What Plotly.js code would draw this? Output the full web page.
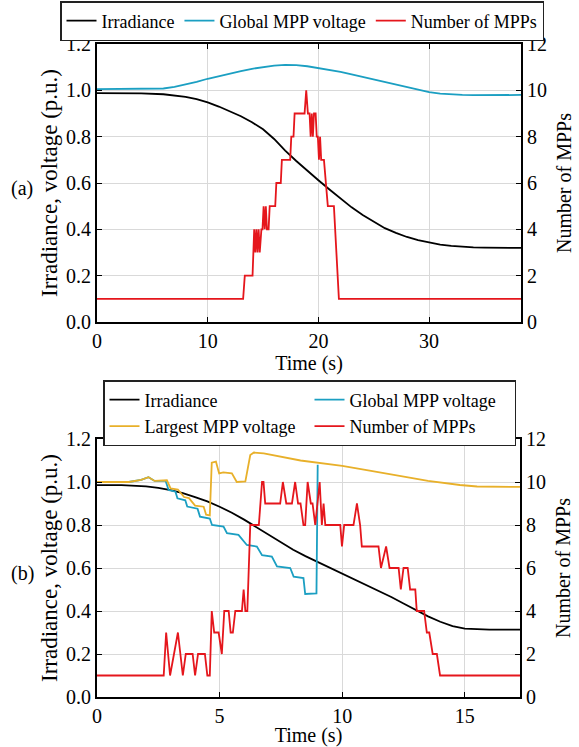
<!DOCTYPE html>
<html>
<head>
<meta charset="utf-8">
<script src="https://cdn.plot.ly/plotly-3.0.1.min.js"></script>
<style>
html,body{margin:0;padding:0;background:#fff;}
#chart{width:579px;height:747px;}
</style>
</head>
<body>
<div id="chart"></div>
<script>
// ---------- (a) ----------
const tIrrA = [0, 2, 4, 6, 8, 9, 10, 11, 12, 13, 14, 15, 16, 17, 18, 19, 20, 21, 22, 23, 24, 25, 26, 27, 28, 29, 30, 31, 32, 33, 34, 35, 38.3];
const irrA  = [0.988, 0.988, 0.987, 0.983, 0.972, 0.962, 0.948, 0.93, 0.91, 0.888, 0.862, 0.832, 0.79, 0.74, 0.695, 0.652, 0.612, 0.572, 0.532, 0.495, 0.462, 0.432, 0.405, 0.385, 0.367, 0.353, 0.342, 0.334, 0.329, 0.325, 0.322, 0.321, 0.32];

const tGlobA = [0, 5, 6, 7, 8, 9, 10, 11, 12, 13, 14, 15, 16, 17, 18, 19, 20, 21, 22, 23, 24, 25, 26, 27, 28, 29, 30, 31, 32, 33, 34, 38.3];
const globA  = [1.005, 1.005, 1.008, 1.015, 1.025, 1.037, 1.05, 1.062, 1.073, 1.083, 1.093, 1.101, 1.107, 1.11, 1.109, 1.104, 1.097, 1.089, 1.08, 1.069, 1.058, 1.046, 1.034, 1.022, 1.011, 1.0, 0.992, 0.986, 0.982, 0.98, 0.979, 0.98];

const tNumA = [0, 13.2, 13.35, 14.05, 14.2, 14.3, 14.4, 14.5, 14.6, 14.7, 14.85, 14.95, 15.05, 15.15, 15.25, 15.35, 15.5, 15.6, 16.1, 16.2, 16.6, 16.7, 17.45, 17.55, 17.75, 17.85, 18.75, 18.9, 19.05, 19.2, 19.3, 19.4, 19.5, 19.6, 19.75, 19.85, 19.95, 20.05, 20.15, 20.25, 20.5, 20.85, 21.4, 21.85, 38.3];
const numA  = [1, 1, 2, 2, 4, 3, 4, 3, 4, 3, 4, 4, 5, 4, 5, 4, 4, 5, 5, 6, 6, 7, 7, 8, 8, 9, 9, 10, 9, 9, 8, 9, 8, 9, 9, 8, 8, 7, 8, 7, 7, 5, 5, 1, 1];

// ---------- (b) ----------
const tIrrB = [0, 1, 2, 2.5, 3, 3.5, 4, 4.5, 5, 5.5, 6, 6.5, 7, 7.5, 8, 8.5, 9, 9.5, 10, 10.5, 11, 11.5, 12, 12.5, 13, 13.5, 14, 14.5, 15, 15.5, 16, 17.25];
const irrB  = [0.985, 0.985, 0.98, 0.973, 0.962, 0.948, 0.93, 0.91, 0.885, 0.857, 0.825, 0.79, 0.752, 0.718, 0.685, 0.655, 0.628, 0.602, 0.575, 0.548, 0.52, 0.493, 0.465, 0.435, 0.405, 0.375, 0.35, 0.33, 0.318, 0.314, 0.313, 0.313];

const tGlobB = [0, 1.3, 1.8, 2.1, 2.35, 2.8, 2.92, 3.2, 3.28, 3.6, 3.68, 4.1, 4.2, 4.6, 4.69, 5.16, 5.3, 5.77, 6.11, 6.52, 6.73, 7.13, 7.34, 7.88, 8.02, 8.42, 8.49, 8.95, 9.0];
const globB  = [1.0, 1.0, 1.01, 1.022, 1.005, 1.005, 0.963, 0.955, 0.924, 0.915, 0.886, 0.876, 0.839, 0.83, 0.8, 0.793, 0.762, 0.754, 0.707, 0.7, 0.66, 0.653, 0.607, 0.6, 0.56, 0.553, 0.479, 0.482, 1.08];

const tLargB = [0, 1.3, 1.8, 2.1, 2.35, 2.85, 3.0, 3.3, 3.55, 3.75, 4.0, 4.35, 4.45, 4.6, 4.68, 4.85, 4.98, 5.15, 5.5, 5.7, 6.05, 6.25, 6.4, 6.8, 8.3, 10, 11, 12.35, 13.5, 14.8, 15.5, 17.25];
const largB  = [1.0, 1.0, 1.01, 1.022, 1.005, 1.008, 0.97, 0.965, 0.93, 0.925, 0.89, 0.885, 0.848, 0.845, 1.09, 1.095, 1.04, 1.045, 1.04, 1.0, 1.003, 1.125, 1.137, 1.133, 1.1, 1.075, 1.055, 1.028, 1.005, 0.986, 0.979, 0.977];

const tNumB = [0, 2.72, 2.82, 2.98, 3.3, 3.5, 3.62, 3.9, 4.0, 4.12, 4.4, 4.5, 4.6, 4.68, 4.78, 4.96, 5.09, 5.19, 5.37, 5.45, 5.54, 5.64, 5.91, 5.98, 6.05, 6.13, 6.25, 6.6, 6.73, 6.79, 6.86, 7.47, 7.58, 7.72, 7.95, 8.08, 8.2, 8.3, 8.42, 8.49, 8.59, 8.72, 8.79, 8.9, 9.08, 9.17, 9.24, 9.31, 9.92, 9.99, 10.08, 10.46, 10.6, 10.73, 10.8, 11.48, 11.58, 11.79, 11.93, 12.3, 12.39, 12.5, 12.67, 12.77, 12.98, 13.04, 13.34, 13.45, 13.55, 13.69, 13.86, 13.99, 17.25];
const numB  = [1, 1, 3, 1, 3, 1, 2, 2, 1, 2, 2, 1, 1, 4, 3, 3, 2, 4, 4, 3, 3, 4, 4, 5, 4, 4, 8, 8, 10, 10, 9, 9, 10, 9, 9, 10, 9, 9, 8, 8, 10, 9, 9, 8, 10, 8, 9, 8, 8, 7, 8, 8, 9, 8, 7, 7, 6, 7, 6, 6, 5, 6, 6, 5, 5, 4, 4, 3, 3, 2, 2, 1, 1];

const names = ['Irradiance', 'Global MPP voltage', 'Largest MPP voltage', 'Number of MPPs'];
const yLabelLeft = 'Irradiance, voltage (p.u.)';
const yLabelRight = 'Number of MPPs';
const xLabel = 'Time (s)';

const C_BLACK = '#000000', C_CYAN = '#1b9fc2', C_YEL = '#e8b02a', C_RED = '#e5161c';
const LW = 1.8;
const FONT = 'Times New Roman';

const traces = [
  {x: tIrrA, y: irrA, name: names[0], mode: 'lines', line: {color: C_BLACK, width: LW}, xaxis: 'x', yaxis: 'y', legend: 'legend'},
  {x: tGlobA, y: globA, name: names[1], mode: 'lines', line: {color: C_CYAN, width: LW}, xaxis: 'x', yaxis: 'y', legend: 'legend'},
  {x: tNumA, y: numA, name: names[3], mode: 'lines', line: {color: C_RED, width: LW}, xaxis: 'x', yaxis: 'y2', legend: 'legend'},
  {x: tIrrB, y: irrB, name: names[0], mode: 'lines', line: {color: C_BLACK, width: LW}, xaxis: 'x2', yaxis: 'y3', legend: 'legend2'},
  {x: tGlobB, y: globB, name: names[1], mode: 'lines', line: {color: C_CYAN, width: LW}, xaxis: 'x2', yaxis: 'y3', legend: 'legend2'},
  {x: tLargB, y: largB, name: names[2], mode: 'lines', line: {color: C_YEL, width: LW}, xaxis: 'x2', yaxis: 'y3', legend: 'legend2'},
  {x: tNumB, y: numB, name: names[3], mode: 'lines', line: {color: C_RED, width: LW}, xaxis: 'x2', yaxis: 'y4', legend: 'legend2'}
];

const W = 579, H = 747;
const px = v => v / W, py = v => 1 - v / H;

function xAxisCfg(extra) {
  return Object.assign({
    showline: true, linecolor: 'black', linewidth: 2, mirror: 'ticks',
    ticks: 'inside', ticklen: 5, tickcolor: 'black',
    showgrid: true, gridcolor: '#d9d9d9', zeroline: false,
    tickfont: {family: FONT, size: 20},
    title: {text: xLabel, font: {family: FONT, size: 20}, standoff: 2}
  }, extra);
}
function yAxisCfg(extra) {
  return Object.assign({
    showline: true, linecolor: 'black', linewidth: 2,
    ticks: 'inside', ticklen: 5, tickcolor: 'black',
    showgrid: true, gridcolor: '#d9d9d9', zeroline: false,
    range: [0, 1.2], dtick: 0.2, tickformat: '.1f',
    tickfont: {family: FONT, size: 20},
    title: {text: yLabelLeft, font: {family: FONT, size: 23}, standoff: 2}
  }, extra);
}
function y2AxisCfg(extra) {
  return Object.assign({
    showline: true, linecolor: 'black', linewidth: 2, side: 'right',
    ticks: 'inside', ticklen: 5, tickcolor: 'black',
    showgrid: false, zeroline: false, range: [0, 12], dtick: 2,
    tickfont: {family: FONT, size: 20},
    title: {text: yLabelRight, font: {family: FONT, size: 20}, standoff: 11}
  }, extra);
}
function legendCfg(extra) {
  return Object.assign({
    orientation: 'h', xanchor: 'left', yanchor: 'top',
    bordercolor: '#222', borderwidth: 1.5, bgcolor: '#fff',
    font: {family: FONT, size: 18},
    itemwidth: 30, traceorder: 'normal'
  }, extra);
}

const layout = {
  width: W, height: H,
  margin: {l: 0, r: 0, t: 0, b: 0},
  paper_bgcolor: '#fff', plot_bgcolor: '#fff',
  font: {family: FONT, size: 20, color: '#000'},
  showlegend: true,
  xaxis: xAxisCfg({domain: [px(97), px(521)], range: [0, 38.3], dtick: 10, anchor: 'y'}),
  yaxis: yAxisCfg({domain: [py(322), py(44)], anchor: 'x'}),
  yaxis2: y2AxisCfg({overlaying: 'y', anchor: 'x'}),
  xaxis2: xAxisCfg({domain: [px(97), px(520)], range: [0, 17.25], dtick: 5, anchor: 'y3'}),
  yaxis3: yAxisCfg({domain: [py(697), py(439)], anchor: 'x2'}),
  yaxis4: y2AxisCfg({overlaying: 'y3', anchor: 'x2'}),
  legend: legendCfg({x: px(60), y: py(1)}),
  legend2: legendCfg({x: px(103), y: py(380), entrywidth: 160, entrywidthmode: 'pixels'}),
  annotations: [
    {text: '(a)', xref: 'paper', yref: 'paper', x: px(22), y: py(188), xanchor: 'center', yanchor: 'middle', showarrow: false, font: {family: FONT, size: 20}},
    {text: '(b)', xref: 'paper', yref: 'paper', x: px(22), y: py(573), xanchor: 'center', yanchor: 'middle', showarrow: false, font: {family: FONT, size: 20}}
  ]
};

Plotly.newPlot('chart', traces, layout, {staticPlot: true, displayModeBar: false});
</script>
</body>
</html>
